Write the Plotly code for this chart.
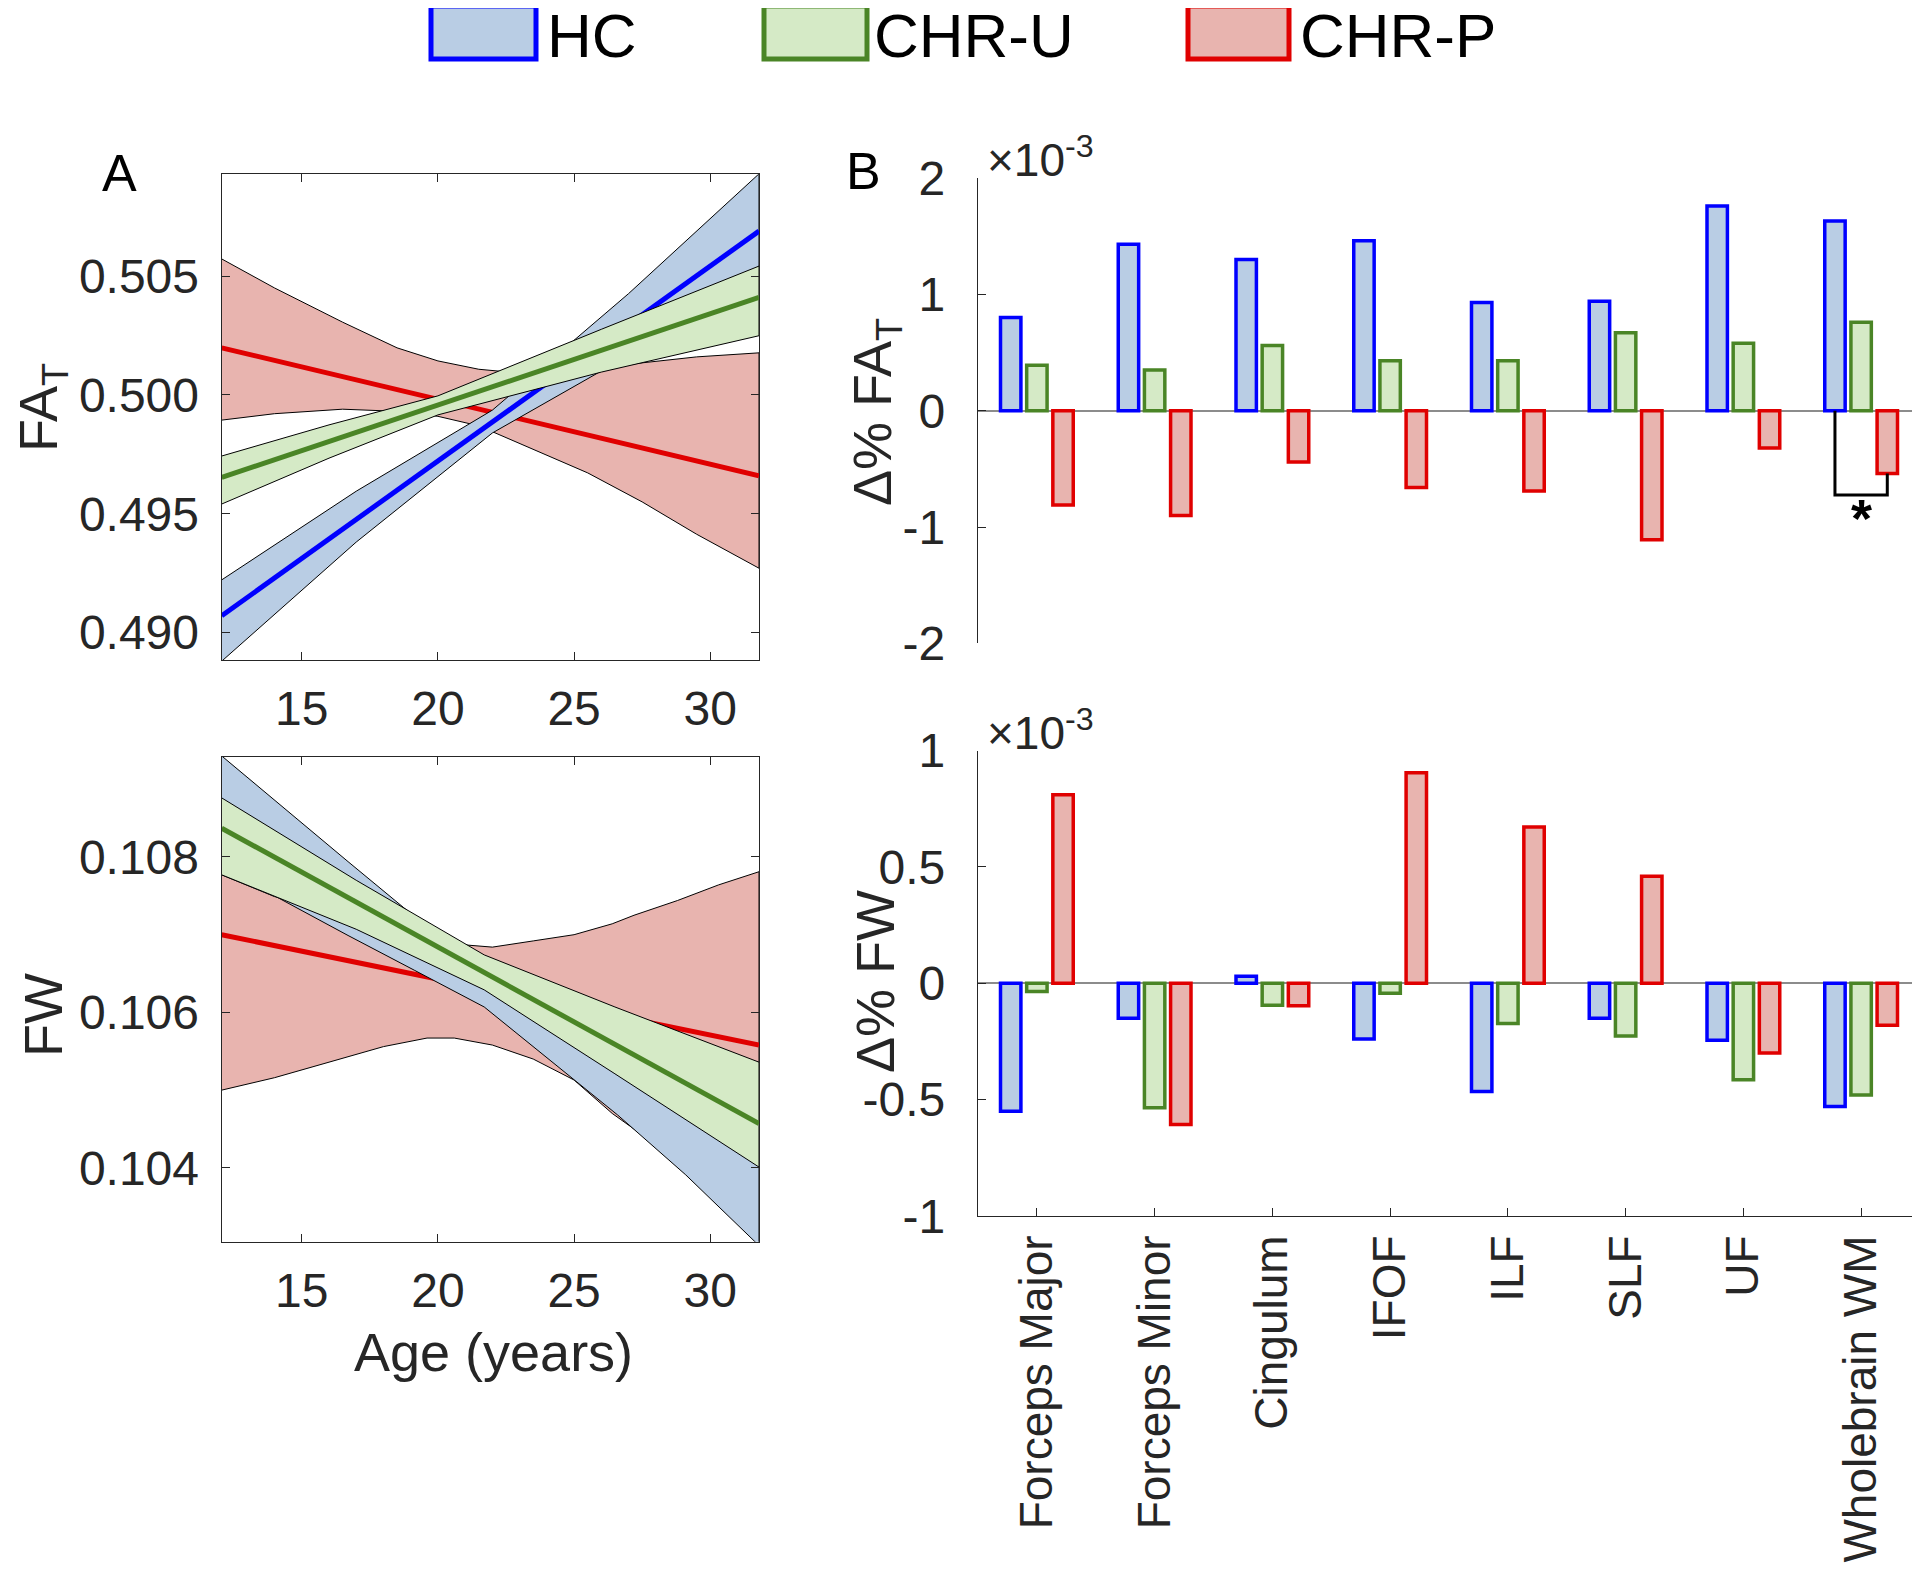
import plotly.graph_objects as go

# ---------------- DATA ----------------
# Panel A (top): FA_T vs age
fa_line_age = [12.06, 31.79]
fa_hc_fit = [0.49071, 0.50689]
fa_chru_fit = [0.49653, 0.50410]
fa_chrp_fit = [0.50198, 0.49660]

fa_hc_ci_age = [12.06, 17.0, 22.0, 27.0, 31.79]
fa_hc_ci_hi = [0.49222, 0.49595, 0.49936, 0.50426, 0.50930]
fa_hc_ci_lo = [0.48880, 0.49381, 0.49840, 0.50166, 0.50450]

fa_chru_ci_age = [12.06, 16.0, 20.0, 26.0, 31.79]
fa_chru_ci_hi = [0.49743, 0.49874, 0.49996, 0.50276, 0.50542]
fa_chru_ci_lo = [0.49541, 0.49734, 0.49916, 0.50096, 0.50249]

fa_chrp_ci_age = [12.06, 14.0, 16.5, 18.5, 20.0, 21.5, 23.0, 25.5, 27.5, 29.5, 31.79]
fa_chrp_ci_hi = [0.50572, 0.50450, 0.50306, 0.50198, 0.50143, 0.50108, 0.50092, 0.50105, 0.50135, 0.50160, 0.50177]
fa_chrp_ci_lo = [0.49894, 0.49921, 0.49940, 0.49931, 0.49910, 0.49870, 0.49795, 0.49672, 0.49550, 0.49414, 0.49271]

# Panel A (bottom): FW vs age
fw_line_age = [12.06, 31.79]
fw_hc_fit = [0.10850, 0.10420]
fw_chru_fit = [0.10837, 0.10457]
fw_chrp_fit = [0.10700, 0.10558]

fw_hc_ci_age = [12.06, 14.0, 16.7, 19.15, 21.7, 24.2, 26.6, 29.1, 31.79]
fw_hc_ci_hi = [0.10930, 0.10873, 0.10794, 0.10723, 0.10672, 0.10632, 0.10596, 0.10565, 0.10532]
fw_hc_ci_lo = [0.10780, 0.10750, 0.10699, 0.10654, 0.10607, 0.10536, 0.10468, 0.10391, 0.10300]

fw_chru_ci_age = [12.06, 17.0, 21.7, 26.5, 31.79]
fw_chru_ci_hi = [0.10876, 0.10770, 0.10674, 0.10607, 0.10536]
fw_chru_ci_lo = [0.10777, 0.10707, 0.10629, 0.10521, 0.10401]

fw_chrp_ci_age = [12.06, 14.0, 16.0, 18.0, 19.6, 20.6, 22.0, 23.5, 25.0, 26.4, 27.2, 28.8, 30.3, 31.79]
fw_chrp_ci_hi = [0.10777, 0.10749, 0.10735, 0.10720, 0.10708, 0.10688, 0.10684, 0.10692, 0.10700, 0.10714, 0.10725, 0.10744, 0.10764, 0.10781]
fw_chrp_ci_lo = [0.10500, 0.10516, 0.10536, 0.10556, 0.10567, 0.10567, 0.10558, 0.10540, 0.10513, 0.10470, 0.10450, 0.10412, 0.10372, 0.10335]

# Panel B: annualised % change (units of 10^-3)
regions = ["Forceps Major", "Forceps Minor", "Cingulum", "IFOF", "ILF", "SLF", "UF", "Wholebrain WM"]
dfa_hc = [0.80, 1.43, 1.30, 1.46, 0.93, 0.94, 1.76, 1.63]
dfa_chru = [0.39, 0.35, 0.56, 0.43, 0.43, 0.67, 0.58, 0.76]
dfa_chrp = [-0.81, -0.90, -0.44, -0.66, -0.69, -1.11, -0.32, -0.54]
dfw_hc = [-0.55, -0.15, 0.03, -0.24, -0.465, -0.15, -0.245, -0.53]
dfw_chru = [-0.035, -0.535, -0.095, -0.043, -0.173, -0.227, -0.415, -0.48]
dfw_chrp = [0.81, -0.607, -0.097, 0.905, 0.672, 0.46, -0.30, -0.18]

group_names = ["HC", "CHR-U", "CHR-P"]
sig_region = "Wholebrain WM"   # HC vs CHR-P significant
sig_level = -0.725
star_level = -0.92

fa_ticks = [0.490, 0.495, 0.500, 0.505]
fw_ticks = [0.104, 0.106, 0.108]
age_ticks = [15, 20, 25, 30]
dfa_ticks = [-2, -1, 0, 1, 2]
dfa_ticktext = ["-2", "-1", "0", "1", "2"]
dfw_ticks = [-1, -0.5, 0, 0.5, 1]
dfw_ticktext = ["-1", "-0.5", "0", "0.5", "1"]

# ---------------- STYLE ----------------
PAGE_W, PAGE_H = 1920, 1577
BODY = 8                       # default page margin of the html body
W, H = PAGE_W - BODY, PAGE_H - BODY
FONT = "Liberation Sans, Arial, Helvetica, sans-serif"
TXT = "#262626"
EDGE = {"HC": "#0000FF", "CHR-U": "#4A8526", "CHR-P": "#E00000"}
FILL = {"HC": "#B9CDE4", "CHR-U": "#D5EAC6", "CHR-P": "#E8B4AF"}
BARGAP = 1 / 3
BARGROUPGAP = 0.22

def px(x):
    return (x - BODY) / W

def py(y):
    return 1 - (y - BODY) / H

fig = go.Figure()

def band(age, hi, lo, grp, xa, ya):
    fig.add_trace(go.Scatter(
        x=list(age) + list(age)[::-1], y=list(hi) + list(lo)[::-1],
        fill="toself", fillcolor=FILL[grp], mode="lines",
        line=dict(color="black", width=1), xaxis=xa, yaxis=ya,
        showlegend=False, hoverinfo="skip"))

def fitline(age, y, grp, xa, ya):
    fig.add_trace(go.Scatter(x=age, y=y, mode="lines",
                             line=dict(color=EDGE[grp], width=5),
                             xaxis=xa, yaxis=ya, showlegend=False))

# Panel A top (order: CHR-P, HC, CHR-U)
band(fa_chrp_ci_age, fa_chrp_ci_hi, fa_chrp_ci_lo, "CHR-P", "x", "y")
fitline(fa_line_age, fa_chrp_fit, "CHR-P", "x", "y")
band(fa_hc_ci_age, fa_hc_ci_hi, fa_hc_ci_lo, "HC", "x", "y")
fitline(fa_line_age, fa_hc_fit, "HC", "x", "y")
band(fa_chru_ci_age, fa_chru_ci_hi, fa_chru_ci_lo, "CHR-U", "x", "y")
fitline(fa_line_age, fa_chru_fit, "CHR-U", "x", "y")

# Panel A bottom
band(fw_chrp_ci_age, fw_chrp_ci_hi, fw_chrp_ci_lo, "CHR-P", "x2", "y2")
fitline(fw_line_age, fw_chrp_fit, "CHR-P", "x2", "y2")
band(fw_hc_ci_age, fw_hc_ci_hi, fw_hc_ci_lo, "HC", "x2", "y2")
fitline(fw_line_age, fw_hc_fit, "HC", "x2", "y2")
band(fw_chru_ci_age, fw_chru_ci_hi, fw_chru_ci_lo, "CHR-U", "x2", "y2")
fitline(fw_line_age, fw_chru_fit, "CHR-U", "x2", "y2")

# Panel B bars
cat_pos = list(range(1, len(regions) + 1))
for grp, fa_vals, fw_vals in zip(group_names, [dfa_hc, dfa_chru, dfa_chrp], [dfw_hc, dfw_chru, dfw_chrp]):
    for vals, xa, ya in [(fa_vals, "x3", "y3"), (fw_vals, "x4", "y4")]:
        fig.add_trace(go.Bar(x=cat_pos, y=vals, xaxis=xa, yaxis=ya,
                             marker=dict(color=FILL[grp], line=dict(color=EDGE[grp], width=3.5)),
                             showlegend=False, name=grp))

# significance bracket (HC vs CHR-P)
slot = (1 - BARGAP) / 3
si = regions.index(sig_region)
sx = cat_pos[si]
fig.add_trace(go.Scatter(
    x=[sx - slot, sx - slot, sx + slot, sx + slot],
    y=[0, sig_level, sig_level, dfa_chrp[si]],
    mode="lines", line=dict(color="black", width=3),
    xaxis="x3", yaxis="y3", showlegend=False, hoverinfo="skip"))
fig.add_annotation(x=sx, y=star_level, xref="x3", yref="y3", text="<b>*</b>",
                   showarrow=False, font=dict(size=54, color="black", family=FONT))

# ---------------- AXES ----------------
tickfont = dict(size=48, color=TXT, family=FONT)
a_dom_x = [px(221.7), px(759)]
common_a = dict(showline=True, linecolor=TXT, linewidth=1.2, mirror="allticks",
                ticks="inside", ticklen=8, tickcolor=TXT, tickwidth=1.2,
                showgrid=False, zeroline=False, tickfont=tickfont, automargin=False)

fig.update_layout(
    xaxis=dict(domain=a_dom_x, anchor="y", range=[12.06, 31.79], tickvals=age_ticks,
               ticklabelstandoff=6, **common_a),
    yaxis=dict(domain=[py(660), py(174.3)], anchor="x", range=[0.48885, 0.50928],
               tickvals=fa_ticks, tickformat=".3f", ticklabelstandoff=12, **common_a),
    xaxis2=dict(domain=a_dom_x, anchor="y2", range=[12.06, 31.79], tickvals=age_ticks,
                ticklabelstandoff=7, **common_a),
    yaxis2=dict(domain=[py(1241.7), py(756.7)], anchor="x2", range=[0.10305, 0.10929],
                tickvals=fw_ticks, tickformat=".3f", ticklabelstandoff=12, **common_a),
    xaxis3=dict(domain=[px(978), 1.0], anchor="y3", range=[0.5, 8.5], automargin=False,
                showline=False, showticklabels=False, ticks="", showgrid=False, zeroline=False),
    yaxis3=dict(domain=[py(643.4), py(178)], anchor="x3", range=[-2, 2], tickvals=dfa_ticks,
                ticktext=dfa_ticktext,
                showline=True, linecolor=TXT, linewidth=1.2, ticks="inside", ticklen=8,
                tickcolor=TXT, showgrid=False, zeroline=True, zerolinecolor="#8C8C8C",
                zerolinewidth=1.5, tickfont=tickfont, ticklabelstandoff=22, automargin=False),
    xaxis4=dict(domain=[px(978), 1.0], anchor="y4", range=[0.5, 8.5], tickvals=cat_pos,
                ticktext=regions, tickangle=-90, showline=True, linecolor=TXT, linewidth=1.2,
                ticks="inside", ticklen=8, tickcolor=TXT, showgrid=False, zeroline=False,
                tickfont=dict(size=46, color=TXT, family=FONT), ticklabelstandoff=0,
                automargin=False),
    yaxis4=dict(domain=[py(1215.9), py(750.6)], anchor="x4", range=[-1, 1], tickvals=dfw_ticks,
                ticktext=dfw_ticktext, showline=True, linecolor=TXT, linewidth=1.2,
                ticks="inside", ticklen=8, tickcolor=TXT, showgrid=False, zeroline=True,
                zerolinecolor="#8C8C8C", zerolinewidth=1.5, tickfont=tickfont,
                ticklabelstandoff=22, automargin=False),
    barmode="group", bargap=BARGAP, bargroupgap=BARGROUPGAP,
    width=W, height=H, margin=dict(l=0, r=0, t=0, b=0, pad=0, autoexpand=False),
    paper_bgcolor="white", plot_bgcolor="white", showlegend=False,
)

# ---------------- TEXT ----------------
def ann(x, y, text, size, angle=0, xanchor="center", yanchor="middle", color=TXT):
    fig.add_annotation(x=px(x), y=py(y), xref="paper", yref="paper", text=text,
                       showarrow=False, textangle=angle, xanchor=xanchor, yanchor=yanchor,
                       font=dict(size=size, color=color, family=FONT))

ann(119, 173, "A", 52, color="black")
ann(863, 171, "B", 52, color="black")
ann(42, 408, "FA<sub>T</sub>", 54, angle=-90)
ann(43, 1015, "FW", 54, angle=-90)
ann(493, 1352, "Age (years)", 54)
ann(876, 412, "Δ% FA<sub>T</sub>", 54, angle=-90)
ann(875, 982, "Δ% FW", 54, angle=-90)
ann(985, 157, "×10<sup>-3</sup>", 46, xanchor="left")
ann(985, 730, "×10<sup>-3</sup>", 46, xanchor="left")

# ---------------- LEGEND ----------------
legend_items = [("HC", 431, 536, 545), ("CHR-U", 764, 867, 872), ("CHR-P", 1188, 1289, 1298)]
for grp, x0, x1, tx in legend_items:
    fig.add_shape(type="rect", xref="paper", yref="paper", x0=px(x0), x1=px(x1),
                  y0=py(59), y1=py(6), fillcolor=FILL[grp],
                  line=dict(color=EDGE[grp], width=5))
    ann(tx, 36, grp, 62, xanchor="left", color="black")

fig.write_html("out.html")
